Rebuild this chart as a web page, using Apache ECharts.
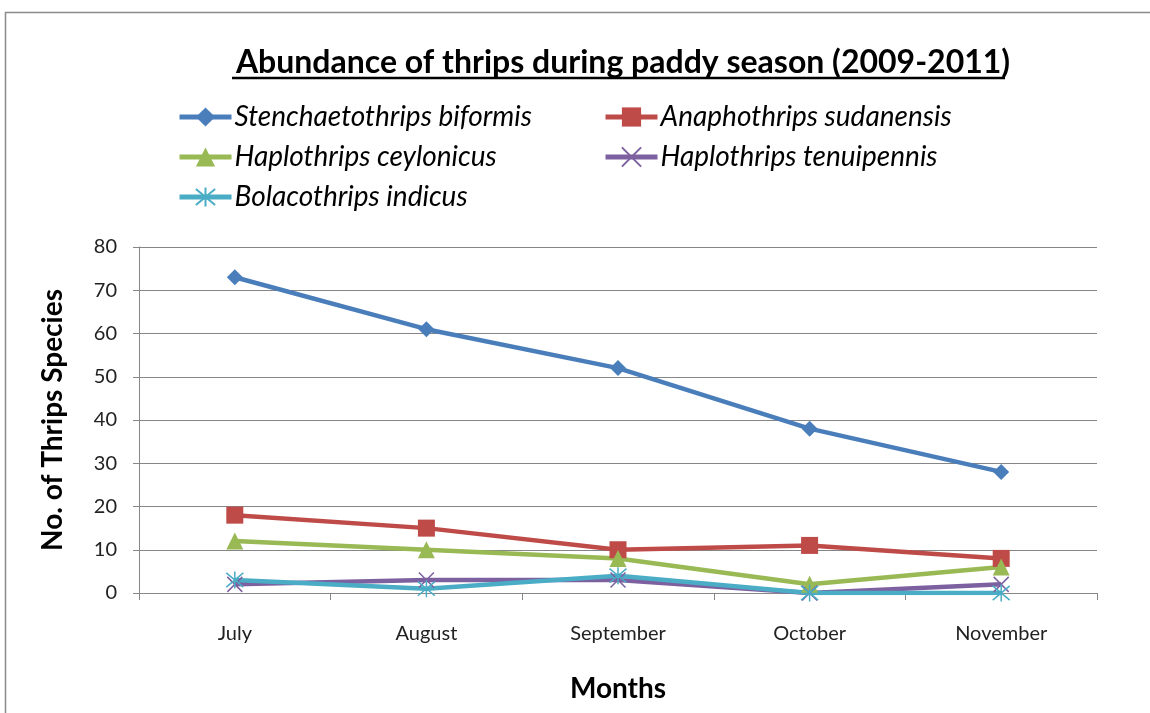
<!DOCTYPE html>
<html>
<head>
<meta charset="utf-8">
<script src="https://cdn.jsdelivr.net/npm/echarts@6/dist/echarts.min.js"></script>
<style>
html, body { margin: 0; padding: 0; background: #fff; }
#chart { width: 1150px; height: 713px; }
</style>
</head>
<body>
<div id="chart"></div>
<script>
const months = ['July', 'August', 'September', 'October', 'November'];
const stenchaetothrips = [73, 61, 52, 38, 28];
const anaphothrips = [18, 15, 10, 11, 8];
const hapCeylonicus = [12, 10, 8, 2, 6];
const hapTenuipennis = [2, 3, 3, 0, 2];
const bolacothrips = [3, 1, 4, 0, 0];
const yTicks = [0, 10, 20, 30, 40, 50, 60, 70, 80];

const FONT = 'Lato, "Open Sans", sans-serif';
const xPath = 'path://M0,0 L10,10 M10,0 L0,10';
const starPath = 'path://M0,0 L10,10 M10,0 L0,10 M5,-1 L5,11';

const mk = (name, data, color, symbol, size, extra) => Object.assign({
    name: name,
    type: 'line',
    data: data,
    symbol: symbol,
    symbolSize: size,
    lineStyle: { color: color, width: 4.5 },
    itemStyle: { color: color },
    emphasis: { disabled: true }
}, extra || {});

const legendText = { fontFamily: FONT, fontSize: 28, fontStyle: 'italic', color: '#000', lineHeight: 30, padding: [0, 0, 0, -2] };
const legendBase = {
    orient: 'vertical', top: 97, itemGap: 10,
    itemWidth: 52, itemHeight: 24,
    lineStyle: { width: 5 },
    textStyle: legendText
};

const chart = echarts.init(document.getElementById('chart'));
chart.setOption({
    animation: false,
    title: {
        text: 'Abundance of thrips during paddy season (2009-2011)',
        left: 618,
        textAlign: 'center',
        top: 42,
        textStyle: { fontFamily: FONT, fontSize: 32, fontWeight: 'bold', color: '#000' }
    },
    graphic: [
        { type: 'rect', shape: { x: 5.5, y: 12.5, width: 1200, height: 800 }, style: { fill: 'none', stroke: '#8a8a8a', lineWidth: 1.5 } },
        { type: 'line', shape: { x1: 232, y1: 78, x2: 1005, y2: 78 }, style: { stroke: '#000', lineWidth: 2.5 } }
    ],
    legend: [
        Object.assign({}, legendBase, {
            left: 172,
            data: ['Stenchaetothrips biformis', 'Haplothrips ceylonicus', 'Bolacothrips indicus']
        }),
        Object.assign({}, legendBase, {
            left: 598,
            data: ['Anaphothrips sudanensis', 'Haplothrips tenuipennis']
        })
    ],
    grid: { left: 139, right: 53, top: 247, bottom: 120 },
    xAxis: {
        type: 'category',
        data: months,
        name: 'Months',
        nameLocation: 'middle',
        nameGap: 82,
        nameTextStyle: { fontFamily: FONT, fontSize: 28, fontWeight: 'bold', color: '#000' },
        axisLine: { lineStyle: { color: '#868686', width: 1 } },
        axisTick: { show: true, length: 7, lineStyle: { color: '#868686' } },
        axisLabel: { fontFamily: FONT, fontSize: 20, color: '#222', margin: 31 }
    },
    yAxis: {
        type: 'value',
        min: 0, max: 80, interval: 10,
        name: 'No. of Thrips Species',
        nameLocation: 'middle',
        nameGap: 72,
        nameTextStyle: { fontFamily: FONT, fontSize: 28, fontWeight: 'bold', color: '#000' },
        axisLine: { show: true, lineStyle: { color: '#868686', width: 1 } },
        axisTick: { show: true, length: 6, lineStyle: { color: '#868686' } },
        splitLine: { lineStyle: { color: '#868686', width: 1 } },
        axisLabel: {
            fontFamily: FONT, fontSize: 20, color: '#222', margin: 22,
            formatter: v => yTicks.includes(v) ? String(v) : ''
        }
    },
    series: [
        mk('Stenchaetothrips biformis', stenchaetothrips, '#4A7EBB', 'diamond', 16),
        mk('Anaphothrips sudanensis', anaphothrips, '#BE4B48', 'rect', 17),
        mk('Haplothrips ceylonicus', hapCeylonicus, '#98B954', 'triangle', 17),
        mk('Haplothrips tenuipennis', hapTenuipennis, '#7D60A0', xPath, 15,
            { itemStyle: { color: 'none', borderColor: '#7D60A0', borderWidth: 1.5 } }),
        mk('Bolacothrips indicus', bolacothrips, '#4AACC5', starPath, 17,
            { itemStyle: { color: 'none', borderColor: '#4AACC5', borderWidth: 1.5 } })
    ]
});
</script>
</body>
</html>
